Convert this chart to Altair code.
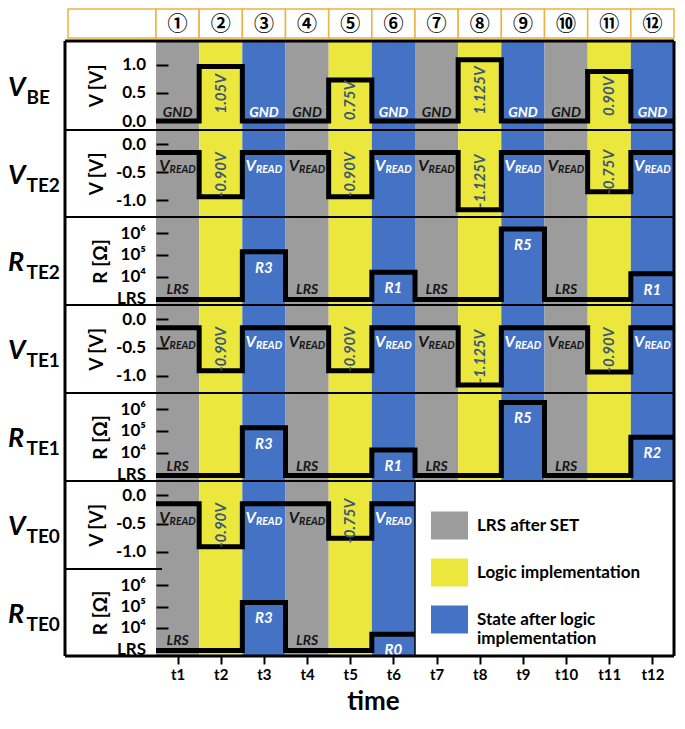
import altair as alt
import pandas as pd

FONT = "Lato"
W = 518
LEFT = -91

# ---------------- data ----------------
circled = ["①", "②", "③", "④", "⑤", "⑥", "⑦", "⑧", "⑨", "⑩", "⑪", "⑫"]
time_labels = ["t1", "t2", "t3", "t4", "t5", "t6", "t7", "t8", "t9", "t10", "t11", "t12"]
phase_names = ["LRS after SET", "Logic implementation", "State after logic implementation"]
phase_lines = [["LRS after SET"], ["Logic implementation"], ["State after logic", "implementation"]]
phase_colors = ["#9C9C9C", "#ECE73D", "#4472C4"]
column_phase = ["LRS after SET", "Logic implementation", "State after logic implementation",
                "LRS after SET", "Logic implementation", "State after logic implementation",
                "LRS after SET", "Logic implementation", "State after logic implementation",
                "LRS after SET", "Logic implementation", "State after logic implementation"]

vbe_level = [0.0, 0.97, 0.0, 0.0, 0.73, 0.0, 0.0, 1.09, 0.0, 0.0, 0.88, 0.0]
vbe_text = ["GND", "1.05V", "GND", "GND", "0.75V", "GND", "GND", "1.125V", "GND", "GND", "0.90V", "GND"]

vte2_level = [-0.15, -0.94, -0.15, -0.15, -0.94, -0.15, -0.15, -1.17, -0.15, -0.15, -0.85, -0.15]
vte2_text = ["V_READ", "-0.90V", "V_READ", "V_READ", "-0.90V", "V_READ",
             "V_READ", "-1.125V", "V_READ", "V_READ", "-0.75V", "V_READ"]
rte2_level = [2.94, 2.94, 5.15, 2.94, 2.94, 4.20, 2.94, 2.94, 6.20, 2.94, 2.94, 4.13]
rte2_text = ["LRS", "", "R3", "LRS", "", "R1", "LRS", "", "R5", "LRS", "", "R1"]

vte1_level = [-0.15, -0.91, -0.15, -0.15, -0.91, -0.15, -0.15, -1.16, -0.15, -0.15, -0.93, -0.15]
vte1_text = ["V_READ", "-0.90V", "V_READ", "V_READ", "-0.90V", "V_READ",
             "V_READ", "-1.125V", "V_READ", "V_READ", "-0.90V", "V_READ"]
rte1_level = [2.93, 2.93, 5.15, 2.93, 2.93, 4.12, 2.93, 2.93, 6.32, 2.93, 2.93, 4.71]
rte1_text = ["LRS", "", "R3", "LRS", "", "R1", "LRS", "", "R5", "LRS", "", "R2"]

vte0_level = [-0.15, -0.91, -0.15, -0.15, -0.76, -0.15]
vte0_text = ["V_READ", "-0.90V", "V_READ", "V_READ", "-0.75V", "V_READ"]
rte0_level = [2.94, 2.94, 5.19, 2.94, 2.94, 3.70]
rte0_text = ["LRS", "", "R3", "LRS", "", "R0"]

vbe_ticks, vbe_tick_labels = [0.0, 0.5, 1.0], ["0.0", "0.5", "1.0"]
v_ticks, v_tick_labels = [0.0, -0.5, -1.0], ["0.0", "-0.5", "-1.0"]
r_ticks, r_tick_labels = [3, 4, 5, 6], ["LRS", "10⁴", "10⁵", "10⁶"]

# ---------------- helpers ----------------
x_scale = alt.Scale(domain=[0, 12], nice=False, zero=False)
color_scale = alt.Scale(domain=phase_names, range=phase_colors)
blank = pd.DataFrame({"k": [0]})
TXT_DARK = "#151515"
PULSE_COLOR = "#3A5775"


def map_expr(values, labels):
    expr = "''"
    for v, l in zip(values, labels):
        expr = f"datum.value == {v} ? '{l}' : ({expr})"
    return expr


legend_expr = "datum.label"
for name, lines in zip(phase_names, phase_lines):
    if len(lines) > 1:
        arr = "[" + ", ".join(f"'{s}'" for s in lines) + "]"
        legend_expr = f"datum.label == '{name}' ? {arr} : ({legend_expr})"

LEG = alt.Legend(title=None, orient="none", legendX=275, legendY=499, direction="vertical",
                 symbolType="M-1,-0.757H1V0.757H-1Z", symbolSize=1369, symbolStrokeWidth=0,
                 symbolOpacity=1, labelFont=FONT, labelFontSize=17, labelFontWeight="bold",
                 labelColor="black", labelOffset=9, labelLimit=400, rowPadding=14, padding=0,
                 labelExpr=legend_expr)

X_AXIS = alt.Axis(values=[i + 0.5 for i in range(len(time_labels))],
                  labelExpr="[" + ", ".join(f"'{t}'" for t in time_labels) + "][floor(datum.value)]",
                  title="time", titleX=217, titleY=53, titleAlign="center", titleBaseline="alphabetic",
                  titleFont=FONT, titleFontSize=26, titleFontWeight="bold", titleColor="black",
                  labelFont=FONT, labelFontSize=15, labelFontWeight="bold", labelColor="black",
                  labelPadding=3, labelBaseline="top", tickSize=8, tickWidth=2, tickColor="black",
                  domain=False, grid=False)


def panel(kind, levels, texts, height, name, sub, first=False, bottom=False):
    n = len(levels)
    phases = column_phase[:n]
    partial = n < 12
    if kind == "R":
        domain, ticks, tlabels, title, tx = [2.68, 6.76], r_ticks, r_tick_labels, "R [Ω]", -68
    elif kind == "VBE":
        domain, ticks, tlabels, title, tx = [-0.158, 1.421], vbe_ticks, vbe_tick_labels, "V [V]", -72
    else:
        domain, ticks, tlabels, title, tx = [-1.30, 0.25], v_ticks, v_tick_labels, "V [V]", -72

    yaxis = alt.Axis(values=ticks, labelExpr=map_expr(ticks, tlabels), title=title,
                     offset=-12, tickSize=12, tickWidth=2, tickColor="black",
                     labelPadding=10.5, labelFont=FONT, labelFontSize=17, labelFontWeight="bold",
                     labelColor="black", domain=False, grid=False, zindex=1,
                     titleX=tx, titleY=height / 2, titleAngle=270, titleAlign="center",
                     titleBaseline="middle", titleFont=FONT, titleFontSize=19,
                     titleFontWeight="bold", titleColor="black")
    xaxis = X_AXIS if bottom else None
    yscale = alt.Scale(domain=domain, nice=False, zero=False)

    def X(f):
        return alt.X(f, type="quantitative", scale=x_scale, axis=xaxis)

    def Y(f):
        return alt.Y(f, type="quantitative", scale=yscale, axis=yaxis)

    band = pd.DataFrame({"x0": list(range(n)), "x1": [i + 1 for i in range(n)], "phase": phases})
    pts = []
    for i, v in enumerate(levels):
        pts.append({"x": i, "v": v, "k": 2 * i})
        pts.append({"x": i + 1, "v": v, "k": 2 * i + 1})
    line = pd.DataFrame(pts)
    rows = []
    for i, (v, t) in enumerate(zip(levels, texts)):
        base = levels[i - 1] if i > 0 else levels[i + 1]
        parts = t.split("_")
        rows.append({"xc": i + 0.5, "v": v, "mid": (v + base) / 2, "t": t,
                     "m": parts[0], "s": parts[1] if len(parts) > 1 else "", "phase": phases[i]})
    lab = pd.DataFrame(rows)

    txt_color = alt.condition("datum.phase == 'LRS after SET'", alt.value(TXT_DARK), alt.value("white"))

    layers = []
    layers.append(alt.Chart(band).mark_rect().encode(
        x=X("x0"), x2="x1", y=alt.value(0), y2=alt.value(height),
        color=alt.Color("phase:N", scale=color_scale, legend=LEG)))
    layers.append(alt.Chart(line).mark_line(color="black", strokeWidth=5, strokeJoin="miter",
                                            clip=True).encode(
        x=X("x"), y=Y("v"), order="k:Q"))

    if kind in ("VBE", "V"):
        layers.append(alt.Chart(lab).transform_filter("datum.phase == 'Logic implementation'").mark_text(
            angle=270, font=FONT, fontSize=15, fontStyle="italic", fontWeight="bold",
            color=PULSE_COLOR, baseline="middle", align="center").encode(
            x=X("xc"), y=Y("mid"), text="t:N"))
        other = alt.Chart(lab).transform_filter("datum.phase != 'Logic implementation'")
        if kind == "VBE":
            layers.append(other.mark_text(font=FONT, fontSize=14, fontStyle="italic", fontWeight="bold",
                                          baseline="alphabetic", dy=-4).encode(
                x=X("xc"), y=Y("v"), text="m:N", color=txt_color))
        else:
            layers.append(other.mark_text(font=FONT, fontSize=16, fontStyle="italic", fontWeight="bold",
                                          baseline="alphabetic", align="right", dx=-8, dy=19).encode(
                x=X("xc"), y=Y("v"), text="m:N", color=txt_color))
            layers.append(other.mark_text(font=FONT, fontSize=10.5, fontStyle="italic", fontWeight="bold",
                                          baseline="alphabetic", align="left", dx=-8, dy=21).encode(
                x=X("xc"), y=Y("v"), text="s:N", color=txt_color))
    else:
        layers.append(alt.Chart(lab).transform_filter("datum.phase == 'LRS after SET'").mark_text(
            font=FONT, fontSize=14, fontStyle="italic", fontWeight="bold", baseline="alphabetic",
            dy=-5, color=TXT_DARK).encode(x=X("xc"), y=Y("v"), text="t:N"))
        layers.append(alt.Chart(lab).transform_filter(
            "datum.phase == 'State after logic implementation'").mark_text(
            font=FONT, fontSize=15, fontStyle="italic", fontWeight="bold", baseline="alphabetic",
            dy=21, color="white").encode(x=X("xc"), y=Y("v"), text="t:N"))

    # row name with subscript
    nm = pd.DataFrame({"m": [name], "s": [sub]})
    layers.append(alt.Chart(nm).mark_text(align="left", baseline="alphabetic", font=FONT, fontSize=27,
                                          fontStyle="italic", fontWeight="bold", color="black").encode(
        x=alt.value(-148), y=alt.value(height / 2 + 10), text="m:N"))
    layers.append(alt.Chart(nm).mark_text(align="left", baseline="alphabetic", font=FONT, fontSize=19,
                                          fontWeight="bold", color="black").encode(
        x=alt.value(-129.5), y=alt.value(height / 2 + 18), text="s:N"))

    # frame
    top_x2 = alt.datum(6) if (partial and kind == "R") else alt.value(W)
    layers.append(alt.Chart(blank).mark_rule(color="black", strokeWidth=3 if first else 2).encode(
        x=alt.value(LEFT), x2=top_x2, y=alt.value(0)))
    layers.append(alt.Chart(blank).mark_rule(color="black", strokeWidth=3).encode(
        x=alt.value(LEFT), y=alt.value(0), y2=alt.value(height)))
    layers.append(alt.Chart(blank).mark_rule(color="black", strokeWidth=3).encode(
        x=alt.value(W), y=alt.value(0), y2=alt.value(height)))
    if partial:
        layers.append(alt.Chart(blank).mark_rule(color="black", strokeWidth=1.5).encode(
            x=alt.datum(6), y=alt.value(0), y2=alt.value(height)))
    if bottom:
        layers.append(alt.Chart(blank).mark_rule(color="black", strokeWidth=3).encode(
            x=alt.value(LEFT), x2=alt.value(W), y=alt.value(height)))

    return alt.layer(*layers).properties(width=W, height=height)


# header row
hdr = pd.DataFrame({"x0": list(range(12)), "x1": [i + 1 for i in range(12)],
                    "xc": [i + 0.5 for i in range(12)], "lab": circled})
HX = lambda f: alt.X(f, type="quantitative", scale=x_scale, axis=None)
header = alt.layer(
    alt.Chart(blank).mark_rect(fill="white", stroke="#EBB244", strokeWidth=1.5).encode(
        x=alt.value(-88), x2=alt.value(0), y=alt.value(1), y2=alt.value(30)),
    alt.Chart(hdr).mark_rect(fill="white", stroke="#EBB244", strokeWidth=1.5).encode(
        x=HX("x0"), x2="x1", y=alt.value(1), y2=alt.value(30)),
    alt.Chart(hdr).mark_text(font="Noto Sans CJK JP", fontSize=20, fontWeight="bold",
                             baseline="middle", color="black").encode(
        x=HX("xc"), y=alt.value(16.5), text="lab:N"),
).properties(width=W, height=33)

chart = alt.vconcat(
    header,
    panel("VBE", vbe_level, vbe_text, 89, "V", "BE", first=True),
    panel("V", vte2_level, vte2_text, 87, "V", "TE2"),
    panel("R", rte2_level, rte2_text, 88, "R", "TE2"),
    panel("V", vte1_level, vte1_text, 88, "V", "TE1"),
    panel("R", rte1_level, rte1_text, 88, "R", "TE1"),
    panel("V", vte0_level, vte0_text, 88, "V", "TE0"),
    panel("R", rte0_level, rte0_text, 87, "R", "TE0", bottom=True),
    spacing=0, bounds="flush",
).resolve_scale(y="independent", color="shared").properties(
    padding={"left": 0, "top": 0, "right": 0, "bottom": 0}
).configure_view(stroke=None)

chart.save("out.html", embed_options={"renderer": "svg", "actions": False})
